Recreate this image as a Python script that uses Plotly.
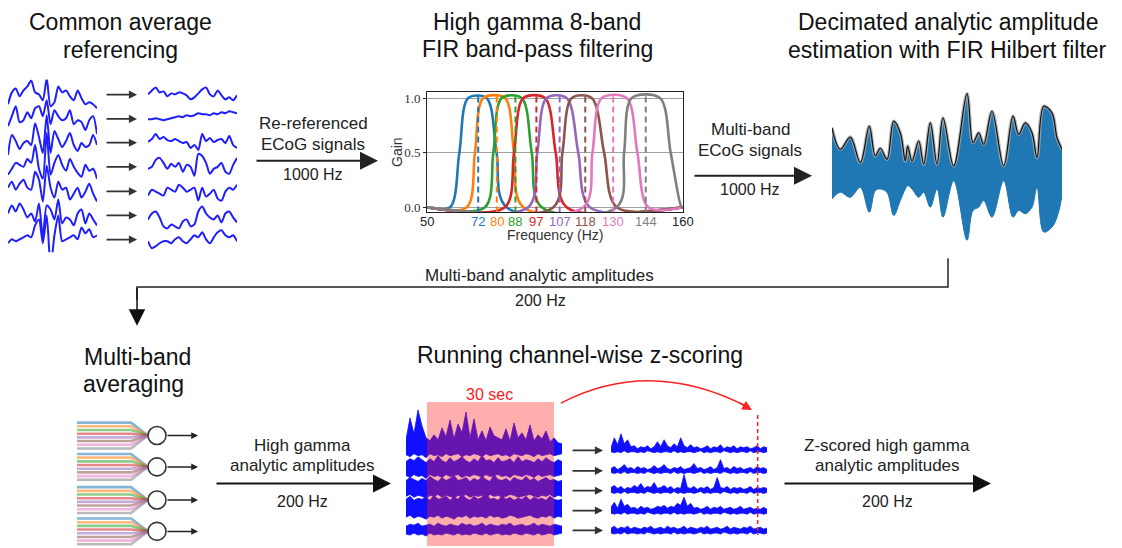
import plotly.graph_objects as go

# page pixel layout: the figure div sits at an 8px body margin
PAGE_W, PAGE_H = 1122, 548
OFF = 8
W, H = PAGE_W - OFF, PAGE_H - OFF
def X(px): return (px - OFF) / W
def Y(py): return 1 - (py - OFF) / H

# ---------------- data ----------------
band_centers = [72, 80, 88, 97, 107, 118, 130, 144]
band_colors = ['#1f77b4', '#ff7f0e', '#2ca02c', '#d62728', '#9467bd', '#8c564b', '#e377c2', '#7f7f7f']
rise_start = [59.9, 67.1, 74.9, 83.5, 93.5, 104.3, 117.2, 131.5]
half_rise = [63.9, 70.6, 78.5, 87.4, 97.4, 108.2, 121.1, 134.7]
rise_end = [67.7, 74.2, 82.1, 91.4, 101.4, 112.2, 125.1, 138.0]
fall_start = [75.6, 83.5, 90.7, 100.7, 110.0, 120.8, 135.8, 150.1]
half_fall = [79.9, 87.4, 95.0, 105.3, 115.0, 126.1, 140.4, 154.7]
fall_end = [84.2, 91.4, 99.3, 110.0, 120.0, 131.5, 145.1, 159.4]
freq_range = [50, 160]
gain_range = [-0.048, 1.052]
gain_ticks = [0, 0.5, 1.0]
gain_ticktext = ['0.0', '0.5', '1.0']

# raw ECoG (left) and re-referenced (right), 7 channels
ecog_offsets = [0, -24, -49, -73, -98, -122, -146]
ecog_raw = [
    [-10, 2, 6, -2, 4, 8, 14, 2, 0, -6, 16, -12, -8, 8, 2, 4, -2, -6, 4, -4, -10, -8, -10, -14],
    [-8, 2, 12, -4, -2, 6, 0, 10, 12, 2, 18, -6, 8, 2, -2, 0, 8, -6, -2, -4, -12, -2, 2, -16],
    [-12, 8, 2, -6, 0, 2, -2, 20, 6, -10, 28, -10, 12, 4, -4, 2, 10, -2, -8, 0, -4, -2, 8, -2],
    [-8, -2, 4, 2, 0, 8, 4, 22, -2, -12, 34, -8, 4, 12, 2, -4, 8, 0, -6, -10, 2, -4, -2, -12],
    [4, 10, 2, 8, 12, 4, 2, 20, 12, -10, 26, 4, -6, 10, 2, 4, -8, -2, 4, -6, 0, 8, -2, -10],
    [2, 10, 4, 12, 6, -2, 2, -6, 12, -22, 10, 6, -4, 16, -8, -2, -4, -10, 2, 6, -8, 2, -4, -10],
    [-4, 0, -2, 0, 2, 4, 2, 14, 20, -4, 24, -28, 4, 24, -2, 0, 2, 4, 0, 12, 6, 10, 2, 4],
]
ecog_car = [
    [0, 4, 7, 2, 3, -2, 1, 0, 2, 1, -1, -5, -3, 1, 5, 7, 0, -2, 4, -1, -5, -3, -6, -1],
    [-1, -1, 0, -1, -2, -1, 0, 1, 2, 1, 3, 2, 3, 5, 4, 4, 3, 5, 4, 6, 5, 7, 6, 5],
    [1, 4, 9, 4, 6, 3, 2, 4, 2, 0, 1, -5, -2, -7, 9, 2, 5, 1, 3, 4, 0, 7, -2, -5],
    [-2, 0, 7, 9, 4, -2, 3, 0, 4, -5, 2, 0, -9, 13, 11, 4, -7, -2, 0, 4, -5, -7, 2, 9],
    [-4, 2, 0, -2, -4, 4, 2, 0, 7, 4, 0, 2, 4, -9, 4, -5, -2, 2, -7, -9, 0, 4, 2, 7],
    [-4, 2, 4, -2, -11, -13, -9, -11, -13, -6, -4, -11, -9, 4, 9, 2, -2, -4, 0, -7, 2, 4, -2, -7],
    [-2, -9, -7, -4, -2, -2, -4, 0, 2, -2, -4, 0, 4, 2, 7, 0, -4, 2, 7, 9, 4, 2, 4, -2],
]

# analytic amplitude envelope
amp_t = [0, 8.3, 18.3, 28.3, 37.3, 43.3, 48.3, 55, 61.7, 68.3, 73.3, 75.7, 80, 86.7, 91.7, 98.3, 105,
         111, 121.7, 135, 141, 146.7, 151.7, 160, 171.7, 181, 186.7, 193.3, 200, 205, 211.7, 220, 225, 230]
amp_upper = [43.3, 21.7, 34, 8.3, 45, 15, 22.7, 11.7, 50, 38.3, 10, 25, 10, 30, 6.7, 48.3, 6.7,
             53.3, 5, 77.7, 28.3, 38.3, 26.7, 60, 5, 55, 36.7, 48.3, 38.3, 13.3, 65, 58.3, 33.3, 21.7]
amp_lower = [28.3, 21.7, 26.7, 16.7, 41.7, 20, 18.3, 21.7, 45, 30, 18.3, 15, 18.3, 26.7, 21.7, 36.7, 18.3,
             46.7, 10, 70, 40, 36.7, 30, 46.7, 10, 46.7, 40, 43.3, 36.7, 16.7, 61.7, 56.7, 46.7, 23.3]

# high gamma amplitudes before z-scoring (5 channels)
zl_offsets = [0, -19, -39, -59, -81]
zl_up = [
    [10, 32, 16, 40, 24, 12, 9, 15, 10, 22, 13, 30, 11, 26, 17, 38, 12, 31, 10, 19, 9, 23, 14, 12, 10, 21, 9, 27, 12, 17, 10, 25, 9, 15, 11, 19, 8, 12, 7, 6],
    [7, 10, 8, 12, 9, 6, 10, 7, 13, 8, 6, 11, 7, 9, 12, 8, 6, 10, 7, 13, 8, 9, 6, 11, 7, 8, 10, 6, 12, 7, 9, 8, 6, 10, 7, 11, 8, 6, 9, 7],
    [8, 11, 9, 7, 10, 8, 12, 9, 7, 11, 8, 10, 13, 8, 9, 11, 7, 10, 8, 12, 9, 7, 14, 9, 8, 10, 7, 11, 9, 8, 12, 8, 10, 7, 9, 11, 8, 9, 7, 8],
    [9, 12, 8, 10, 9, 11, 8, 13, 9, 10, 12, 8, 11, 9, 14, 10, 8, 12, 9, 11, 16, 9, 10, 8, 12, 9, 11, 8, 10, 9, 12, 8, 11, 9, 10, 8, 12, 9, 8, 9],
    [4, 6, 5, 7, 4, 5, 6, 4, 7, 5, 4, 6, 5, 4, 7, 5, 6, 4, 5, 7, 4, 6, 5, 4, 6, 5, 7, 4, 5, 6, 4, 5, 7, 4, 6, 5, 4, 6, 5, 4],
]
zl_down = [
    [5, 7, 4, 6, 5, 8, 4, 6, 5, 7, 4, 6, 5, 4, 7, 5, 6, 4, 5, 7, 4, 6, 5, 4, 6, 5, 7, 4, 5, 6, 4, 5, 7, 4, 6, 5, 4, 6, 5, 4],
    [7, 9, 6, 8, 7, 10, 6, 8, 7, 9, 6, 8, 7, 6, 9, 7, 8, 6, 7, 9, 6, 8, 7, 6, 8, 7, 9, 6, 7, 8, 6, 7, 9, 6, 8, 7, 6, 8, 7, 6],
    [8, 6, 9, 7, 8, 10, 7, 8, 6, 9, 7, 8, 10, 7, 8, 6, 9, 7, 8, 7, 9, 6, 8, 7, 9, 8, 6, 7, 9, 8, 7, 6, 8, 9, 7, 8, 6, 9, 7, 8],
    [9, 7, 10, 8, 9, 11, 8, 9, 7, 10, 8, 9, 11, 8, 9, 7, 10, 8, 9, 8, 10, 7, 9, 8, 10, 9, 7, 8, 10, 9, 8, 7, 9, 10, 8, 9, 7, 10, 8, 9],
    [4, 5, 3, 5, 4, 6, 3, 5, 4, 5, 3, 4, 5, 3, 5, 4, 5, 3, 4, 5, 3, 5, 4, 3, 5, 4, 5, 3, 4, 5, 3, 4, 5, 3, 5, 4, 3, 5, 4, 3],
]
# z-scored amplitudes (5 channels)
zr_offsets = [0, -21, -41, -62, -82]
zr_up = [
    [2, 12, 5, 16, 6, 10, 3, 4, 1, 3, 2, 4, 1, 3, 8, 3, 10, 4, 2, 6, 3, 12, 4, 2, 5, 2, 3, 1, 2, 4, 1, 3, 2, 5, 1, 3, 2, 4, 1, 3, 2, 3, 1, 2, 4, 1, 3, 2],
    [2, 4, 1, 3, 6, 2, 3, 1, 4, 2, 3, 1, 2, 5, 2, 3, 6, 2, 1, 3, 2, 4, 1, 2, 3, 7, 2, 3, 1, 2, 4, 1, 3, 11, 2, 3, 1, 4, 2, 3, 1, 2, 3, 1, 4, 2, 3, 1],
    [3, 5, 2, 4, 1, 3, 2, 5, 3, 7, 2, 4, 3, 8, 2, 3, 5, 2, 4, 1, 3, 2, 16, 3, 2, 4, 1, 3, 2, 4, 1, 3, 13, 3, 2, 4, 1, 3, 2, 3, 1, 2, 4, 1, 3, 2, 3, 2],
    [4, 9, 3, 12, 5, 7, 3, 4, 2, 5, 3, 4, 2, 3, 5, 4, 6, 3, 5, 4, 8, 6, 14, 5, 8, 3, 4, 2, 3, 5, 2, 4, 3, 5, 2, 3, 4, 2, 3, 5, 2, 3, 4, 2, 3, 2, 4, 2],
    [3, 5, 2, 4, 3, 5, 2, 4, 3, 2, 4, 3, 5, 2, 3, 4, 2, 5, 3, 4, 2, 3, 5, 2, 4, 3, 2, 4, 3, 5, 2, 3, 4, 2, 3, 5, 2, 4, 3, 2, 4, 3, 5, 2, 3, 4, 2, 3],
]
zr_down = [2, 3, 2, 3, 1, 3, 2, 2, 3, 2, 3, 1, 2, 3, 2, 3, 2, 2, 3, 1, 3, 2, 3, 2, 2, 3, 2, 1, 3, 2, 3, 2, 2, 3, 1, 2, 3, 2, 3, 2, 2, 3, 1, 3, 2, 2, 3, 2]

# ---------------- figure ----------------
fig = go.Figure()

def rgba(h, a):
    h = h.lstrip('#')
    return 'rgba(%d,%d,%d,%.2f)' % (int(h[0:2], 16), int(h[2:4], 16), int(h[4:6], 16), a)

# Panel A: ECoG signals
ns = len(ecog_raw[0])
idx_a = list(range(ns))
for k in range(len(ecog_raw)):
    fig.add_trace(go.Scatter(x=idx_a, y=[v + ecog_offsets[k] for v in ecog_raw[k]], xaxis='x', yaxis='y',
                             mode='lines', line=dict(color='#1e1eff', width=2, shape='spline', smoothing=0.7),
                             hoverinfo='skip'))
    fig.add_trace(go.Scatter(x=idx_a, y=[v + ecog_offsets[k] for v in ecog_car[k]], xaxis='x2', yaxis='y2',
                             mode='lines', line=dict(color='#1e1eff', width=2, shape='spline', smoothing=0.7),
                             hoverinfo='skip'))

# Panel B: filter bank
for i in range(len(band_centers)):
    fx = [freq_range[0], rise_start[i], half_rise[i], rise_end[i], fall_start[i], half_fall[i], fall_end[i], freq_range[1]]
    fy = [0, 0, 0.5, 1, 1, 0.5, 0, 0]
    fig.add_trace(go.Scatter(x=fx, y=fy, xaxis='x3', yaxis='y3', mode='lines',
                             line=dict(color=band_colors[i], width=2.6, shape='spline', smoothing=0.9),
                             hoverinfo='skip'))
for i in range(len(band_centers)):
    fig.add_trace(go.Scatter(x=[band_centers[i], band_centers[i]], y=gain_range, xaxis='x3', yaxis='y3',
                             mode='lines', line=dict(color=band_colors[i], width=2, dash='6px,4px'),
                             hoverinfo='skip'))

# Panel C: analytic amplitude
poly_x = amp_t + amp_t[::-1]
poly_y = amp_upper + [-v for v in amp_lower[::-1]]
fig.add_trace(go.Scatter(x=poly_x, y=poly_y, xaxis='x4', yaxis='y4', mode='lines', fill='toself',
                         fillcolor='#1f77b4', line=dict(color='#1f77b4', width=1, shape='spline', smoothing=1.0),
                         hoverinfo='skip'))
fig.add_trace(go.Scatter(x=amp_t, y=amp_upper, xaxis='x4', yaxis='y4', mode='lines',
                         line=dict(color='rgba(170,170,170,0.8)', width=3.5, shape='spline', smoothing=1.0),
                         hoverinfo='skip'))
fig.add_trace(go.Scatter(x=amp_t, y=amp_upper, xaxis='x4', yaxis='y4', mode='lines',
                         line=dict(color='#111111', width=1.2, shape='spline', smoothing=1.0),
                         hoverinfo='skip'))

# Panel D: amplitudes before z-scoring
nl = len(zl_up[0])
idx_l = list(range(nl))
for k in range(len(zl_up)):
    up = [zl_offsets[k] + v for v in zl_up[k]]
    dn = [zl_offsets[k] - v for v in zl_down[k]]
    fig.add_trace(go.Scatter(x=idx_l + idx_l[::-1], y=up + dn[::-1], xaxis='x5', yaxis='y5', mode='lines',
                             fill='toself', fillcolor='#1010ff', line=dict(color='#1010ff', width=0.8),
                             hoverinfo='skip'))

# Panel E: z-scored amplitudes
nr = len(zr_up[0])
idx_r = list(range(nr))
for k in range(len(zr_up)):
    up = [zr_offsets[k] + v for v in zr_up[k]]
    dn = [zr_offsets[k] - v for v in zr_down]
    fig.add_trace(go.Scatter(x=idx_r + idx_r[::-1], y=up + dn[::-1], xaxis='x6', yaxis='y6', mode='lines',
                             fill='toself', fillcolor='#1010ff', line=dict(color='#1010ff', width=0.8),
                             hoverinfo='skip'))

# Overlay canvas (page-pixel units): multi-band averaging glyphs and connector
group_y = [436.7, 468.3, 501.7, 533.3]
for yc in group_y:
    for i, c in enumerate(band_colors):
        yi = yc - 13 + i * 26 / 7
        fig.add_trace(go.Scatter(x=[77, 131, 148], y=[yi, yi, yc], xaxis='x7', yaxis='y7', mode='lines',
                                 line=dict(color=rgba(c, 0.55), width=2.6), hoverinfo='skip'))
fig.add_trace(go.Scatter(x=[157] * len(group_y), y=group_y, xaxis='x7', yaxis='y7', mode='markers',
                         marker=dict(size=18, color='white', line=dict(color='#333', width=1.6)),
                         hoverinfo='skip'))
fig.add_trace(go.Scatter(x=[948, 948, 137, 137], y=[258, 287, 287, 300], xaxis='x7', yaxis='y7', mode='lines',
                         line=dict(color='#222', width=1.5), hoverinfo='skip'))

# ---------------- axes ----------------
def hx(p0, p1, r, anchor):
    return dict(domain=[X(p0), X(p1)], range=r, visible=False, fixedrange=True, anchor=anchor)
def hy(top, bot, r, anchor):
    return dict(domain=[Y(bot), Y(top)], range=r, visible=False, fixedrange=True, anchor=anchor)

layout = dict(
    width=W, height=H, margin=dict(l=0, r=0, t=0, b=0), showlegend=False,
    paper_bgcolor='white', plot_bgcolor='rgba(0,0,0,0)',
    xaxis=hx(8, 97, [0, ns - 1], 'y'), yaxis=hy(78, 252, [-159, 15], 'x'),
    xaxis2=hx(148, 237, [0, ns - 1], 'y2'), yaxis2=hy(78, 252, [-159, 15], 'x2'),
    xaxis3=dict(domain=[X(427), X(683)], range=freq_range, anchor='y3', showline=True, mirror=True,
                linecolor='#222', linewidth=1, showgrid=False, zeroline=False, showticklabels=False,
                ticks='', fixedrange=True),
    yaxis3=dict(domain=[Y(212), Y(91)], range=gain_range, anchor='x3', showline=True, mirror=True,
                linecolor='#222', linewidth=1, showgrid=True, gridcolor='#a0a0a0', gridwidth=1,
                zeroline=False, tickvals=gain_ticks, ticktext=gain_ticktext, ticks='outside', ticklen=3,
                tickcolor='#222', tickfont=dict(family='Liberation Serif', size=13, color='#333'),
                fixedrange=True),
    xaxis4=hx(832, 1062, [0, 230], 'y4'), yaxis4=hy(85, 255, [-85, 85], 'x4'),
    xaxis5=hx(406, 562, [0, nl - 1], 'y5'), yaxis5=hy(395, 545, [-94, 56], 'x5'),
    xaxis6=hx(611, 767, [0, nr - 1], 'y6'), yaxis6=hy(395, 545, [-94, 56], 'x6'),
    xaxis7=dict(domain=[0, 1], range=[OFF, PAGE_W], visible=False, fixedrange=True, anchor='y7'),
    yaxis7=dict(domain=[0, 1], range=[PAGE_H, OFF], visible=False, fixedrange=True, anchor='x7'),
)
fig.update_layout(**layout)

# ---------------- text ----------------
FONT = 'Liberation Sans, Arial, sans-serif'
def txt(s, x, y, size, color='#111', angle=0):
    fig.add_annotation(text=s, x=X(x), y=Y(y), xref='paper', yref='paper', showarrow=False,
                       xanchor='center', yanchor='middle', textangle=angle,
                       font=dict(family=FONT, size=size, color=color))

titles = [("Common average", 120, 20), ("referencing", 120, 48),
          ("High gamma 8-band", 537, 20), ("FIR band-pass filtering", 537, 47),
          ("Decimated analytic amplitude", 948, 20), ("estimation with FIR Hilbert filter", 947, 48),
          ("Multi-band", 137, 358), ("averaging", 133, 385),
          ("Running channel-wise z-scoring", 580, 356)]
for s, x, y in titles:
    txt(s, x, y, 23, '#111')

labels = [("Re-referenced", 313, 122, 17), ("ECoG signals", 313, 143, 17), ("1000 Hz", 313, 174, 16),
          ("Multi-band", 750, 128, 17), ("ECoG signals", 750, 150, 17), ("1000 Hz", 750, 189, 16),
          ("Multi-band analytic amplitudes", 539, 275, 17), ("200 Hz", 540, 301, 16),
          ("High gamma", 302, 447, 17), ("analytic amplitudes", 302, 467, 17), ("200 Hz", 302, 503, 16),
          ("Z-scored high gamma", 887, 447, 17), ("analytic amplitudes", 887, 467, 17), ("200 Hz", 887, 503, 16)]
for s, x, y, sz in labels:
    txt(s, x, y, sz, '#222')

txt("30 sec", 490, 395, 16, '#ff2020')
txt("Gain", 397, 151, 14, '#333', angle=-90)
txt("Frequency (Hz)", 555, 235, 14, '#333')

for f, c in zip(band_centers, band_colors):
    fig.add_annotation(text=str(f), x=f, xref='x3', y=Y(221), yref='paper', showarrow=False,
                       xanchor='center', yanchor='middle', font=dict(family=FONT, size=13, color=c))
for f in freq_range:
    fig.add_annotation(text=str(f), x=f, xref='x3', y=Y(221), yref='paper', showarrow=False,
                       xanchor='center', yanchor='middle', font=dict(family=FONT, size=13, color='#222'))

# ---------------- arrows ----------------
def arrow(x0, y0, x1, y1, color='#222', width=2, size=1.0, head=2):
    fig.add_annotation(x=X(x1), y=Y(y1), xref='paper', yref='paper', ax=x0 - x1, ay=y0 - y1,
                       axref='pixel', ayref='pixel', showarrow=True, arrowhead=head, arrowsize=size,
                       arrowwidth=width, arrowcolor=color, text='', standoff=0)

for y in [93.3, 117.7, 141.7, 166, 190.7, 215, 239.3]:
    arrow(105, y, 137, y, '#333', 1.8, 0.9)
arrow(255, 160, 378, 160, '#222', 2, 1.8)
arrow(693, 175, 812, 175, '#222', 2, 1.8)
arrow(137, 287, 137, 326, '#111', 1.5, 2.2)
arrow(215, 485, 391, 485, '#111', 2, 1.8)
arrow(783, 485, 991, 485, '#111', 2, 1.8)
for y in group_y:
    arrow(166, y, 198, y, '#222', 1.5, 0.9)
for y in [451.7, 472.3, 492.3, 512.3, 532.3]:
    arrow(571, y, 603, y, '#333', 1.8, 0.9)

# red window-sliding arrow and current-sample marker
fig.add_shape(type='path', xref='paper', yref='paper',
              path='M %f,%f Q %f,%f %f,%f' % (X(561), Y(404), X(650), Y(357), X(748), Y(408)),
              line=dict(color='#ff2020', width=1.5))
arrow(738, 403, 752, 411, '#ff2020', 1.5, 1.3)
fig.add_shape(type='line', xref='paper', yref='paper', x0=X(757.7), x1=X(757.7), y0=Y(416), y1=Y(537),
              line=dict(color='#ff2020', width=1.5, dash='4px,3px'))
# 30-second window
fig.add_shape(type='rect', xref='paper', yref='paper', x0=X(427), x1=X(554), y0=Y(403), y1=Y(548),
              fillcolor='rgba(255,30,30,0.36)', line=dict(width=0), layer='above')

fig.write_html("out.html")
